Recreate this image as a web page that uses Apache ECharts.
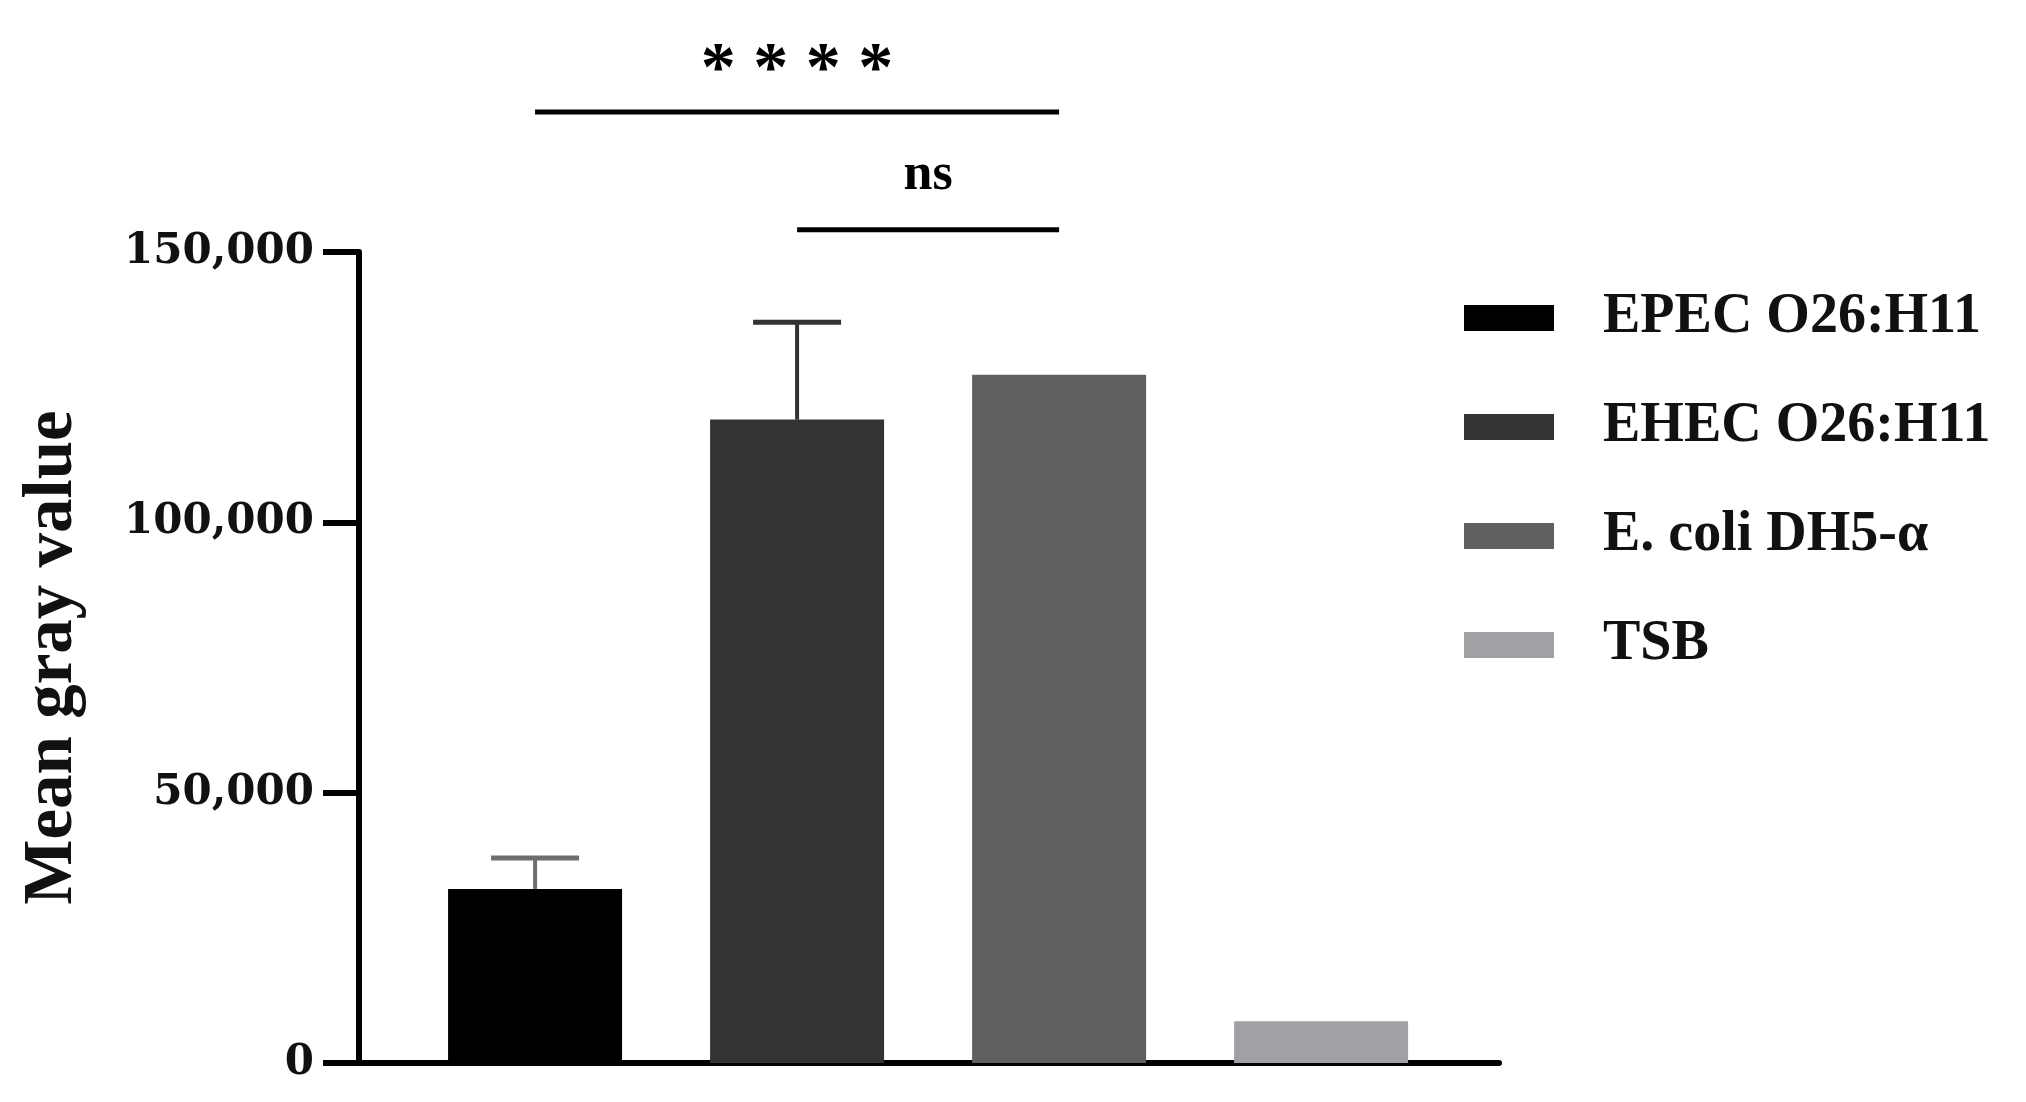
<!DOCTYPE html>
<html>
<head>
<meta charset="utf-8">
<script src="https://cdn.jsdelivr.net/npm/echarts@6/dist/echarts.min.js"></script>
<style>html,body{margin:0;padding:0;background:#fff}#c{width:2026px;height:1102px}</style>
</head>
<body>
<div id="c"></div>
<script>
// ---- data ----
const categories = ['EPEC O26:H11', 'EHEC O26:H11', 'E. coli DH5-\u03b1', 'TSB'];
const means = [32200, 119000, 127300, 7700];
const errors = [5700, 18000, 0, 0];
const barColors = ['#000000', '#333333', '#606060', '#a1a0a4'];
const errColors = ['#6e6e6e', '#333333', '#606060', '#a1a0a4'];
const yTicks = [0, 50000, 100000, 150000];
const yTickLabels = ['0', '50,000', '100,000', '150,000'];
// significance brackets: [fromIndex, toIndex, lineValue, label]
const sigFrom = [0, 1];
const sigTo = [2, 2];
const sigLineValue = [175900, 154100];
const sigLabels = ['* * * *', 'ns'];

const chart = echarts.init(document.getElementById('c'), null, {renderer: 'canvas'});

const barSeries = categories.map((name, i) => ({
  type: 'bar',
  name: name,
  data: [[i, means[i]]],
  barWidth: 174,
  barGap: '-100%',
  itemStyle: {color: barColors[i]},
  z: 2
}));

const errData = [];
categories.forEach((c, i) => { if (errors[i] > 0) errData.push([i, means[i], means[i] + errors[i]]); });

const errSeries = {
  type: 'custom',
  data: errData,
  encode: {x: 0, y: [1, 2]},
  z: 3,
  renderItem: function (params, api) {
    const x = api.value(0);
    const p1 = api.coord([x, api.value(1)]);
    const p2 = api.coord([x, api.value(2)]);
    const col = errColors[x];
    return {
      type: 'group',
      children: [
        {type: 'line', shape: {x1: p1[0], y1: p1[1], x2: p2[0], y2: p2[1]}, style: {stroke: col, lineWidth: 4}},
        {type: 'line', shape: {x1: p2[0] - 44, y1: p2[1], x2: p2[0] + 44, y2: p2[1]}, style: {stroke: col, lineWidth: 5}}
      ]
    };
  }
};

const sigData = sigFrom.map((f, k) => [f, sigTo[k], sigLineValue[k], k]);
const sigSeries = {
  type: 'custom',
  data: sigData,
  encode: {x: [0, 1], y: 2},
  clip: false,
  z: 4,
  renderItem: function (params, api) {
    const a = api.coord([api.value(0), api.value(2)]);
    const b = api.coord([api.value(1), api.value(2)]);
    const k = api.value(3);
    const isStars = k === 0;
    return {
      type: 'group',
      children: [
        {type: 'line', shape: {x1: a[0], y1: a[1], x2: b[0], y2: b[1]}, style: {stroke: '#000', lineWidth: 5}},
        {type: 'text', style: {
          text: sigLabels[k],
          x: (a[0] + b[0]) / 2,
          y: a[1] - (isStars ? 40 : 54),
          align: 'center', verticalAlign: 'middle',
          font: isStars ? 'bold 70px "Liberation Serif"' : 'bold 52px "Liberation Serif"',
          fill: '#000'
        }}
      ]
    };
  }
};

chart.setOption({
  animation: false,
  backgroundColor: '#ffffff',
  grid: {left: 359, right: 527, top: 252, bottom: 39, containLabel: false},
  legend: {
    data: categories,
    orient: 'vertical',
    left: 1459,
    top: 285,
    icon: 'rect',
    itemWidth: 90,
    itemHeight: 26,
    itemGap: 53,
    selectedMode: false,
    textStyle: {fontFamily: 'Liberation Serif', fontWeight: 'bold', fontSize: 56, lineHeight: 56, color: '#111', padding: [0, 0, 0, 44]}
  },
  xAxis: {
    type: 'value',
    min: -0.672,
    max: 3.679,
    axisLine: {show: true, onZero: false, lineStyle: {color: '#000', width: 6}},
    axisTick: {show: false},
    axisLabel: {show: false},
    splitLine: {show: false}
  },
  yAxis: {
    type: 'value',
    min: 0,
    max: 150000,
    interval: 50000,
    name: 'Mean gray value',
    nameLocation: 'middle',
    nameRotate: 90,
    nameGap: 271,
    nameTextStyle: {fontFamily: 'Liberation Serif', fontWeight: 'bold', fontSize: 69, color: '#111'},
    axisLine: {show: true, onZero: false, lineStyle: {color: '#000', width: 6}},
    axisTick: {show: true, length: 36, lineStyle: {color: '#000', width: 6}},
    axisLabel: {
      margin: 45,
      fontFamily: 'DejaVu Serif', fontWeight: 'bold', fontSize: 42, color: '#111',
      formatter: function (v) { const i = yTicks.indexOf(v); return i >= 0 ? yTickLabels[i] : ''; }
    },
    splitLine: {show: false}
  },
  series: barSeries.concat([errSeries, sigSeries])
});
</script>
</body>
</html>
